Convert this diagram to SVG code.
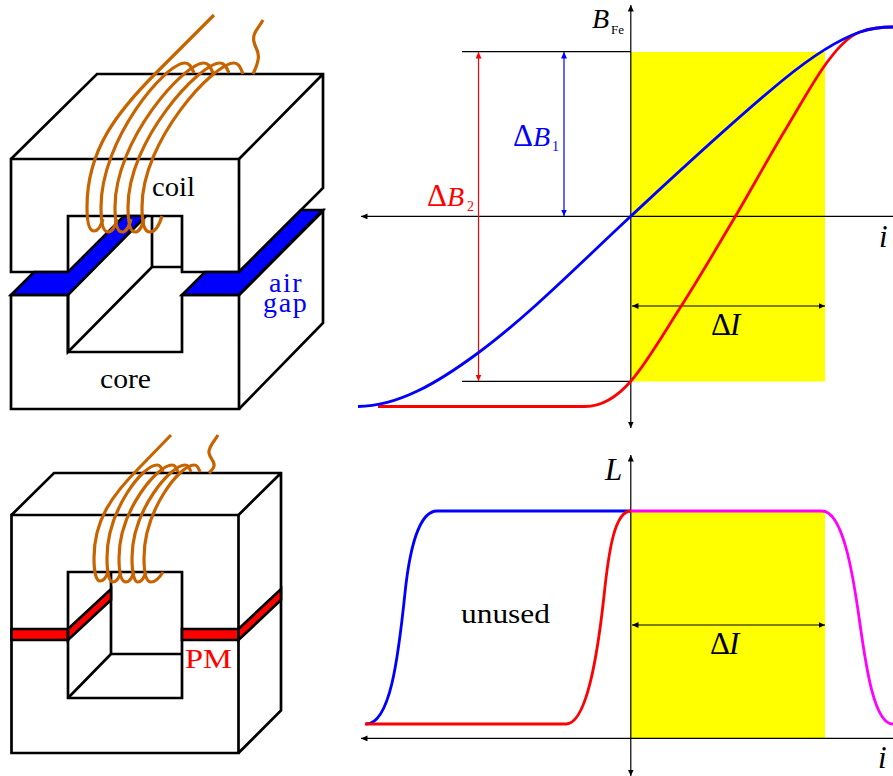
<svg xmlns="http://www.w3.org/2000/svg" width="893" height="776" viewBox="0 0 893 776">
<style>
.k{fill:none;stroke:#000;stroke-width:2.7;stroke-linejoin:miter}
.w{fill:none;stroke:#c86400;stroke-width:3.2;stroke-linecap:butt;stroke-linejoin:round}
.a{fill:none;stroke:#000;stroke-width:1.2}
.c{fill:none;stroke-width:2.8}
text{font-family:"Liberation Serif","Times New Roman",serif;font-size:28px;fill:#000}
.m{font-style:italic}
.d{font-size:31px}
.s{font-size:13px}
.n{font-size:14px}
</style>
<defs>
<marker id="ak" markerWidth="8" markerHeight="8" refX="6.5" refY="3" orient="auto-start-reverse" markerUnits="userSpaceOnUse"><path d="M0,0L6.5,3L0,6z" fill="#000"/></marker>
<marker id="ab" markerWidth="8" markerHeight="8" refX="6.5" refY="3" orient="auto-start-reverse" markerUnits="userSpaceOnUse"><path d="M0,0L6.5,3L0,6z" fill="#00f"/></marker>
<marker id="ar" markerWidth="8" markerHeight="8" refX="6.5" refY="3" orient="auto-start-reverse" markerUnits="userSpaceOnUse"><path d="M0,0L6.5,3L0,6z" fill="#f00"/></marker>
</defs>
<rect width="893" height="776" fill="#fff"/>

<g id="gap-core">
<path class="k" d="M11,159H239V272H182V216H68V272H11Z"/>
<path class="k" d="M11,159L97,74H323V188L239,272M239,159L323,74"/>
<path class="k" d="M152,216V267H182"/>
<path class="k" d="M11,295L34,272H68L124,216H146L68,295Z" style="fill:#00f"/>
<path class="k" d="M182,295L205,272H239L301,210H323L239,295Z" style="fill:#00f"/>
<path class="k" d="M11,295H68V352H182V295H239V409H11Z"/>
<path class="k" d="M68,295V352L152,267M239,295L323,211V323L239,409"/>
<text x="152" y="196" textLength="43" lengthAdjust="spacingAndGlyphs">coil</text>
<text x="100" y="388" textLength="51" lengthAdjust="spacingAndGlyphs">core</text>
<text style="fill:#00f"><tspan x="269" y="292" letter-spacing="1.5">air</tspan><tspan x="263" y="312" letter-spacing="1.7">gap</tspan></text>
</g>
<g id="gap-coil">
<path class="w" d="M214,15L157,72C117,112 87,150 87,207C87,223 89,231 94,231C98,231 101,226 103,219"/>
<path class="w" d="M194,73C191,66 189,63 185,63C165,63 101,140 101,207C101,223 103,232 108,232C112,232 115,227 117,219"/>
<path class="w" d="M213,73C210,66 208,63 204,63C184,63 115,140 115,207C115,223 117,232 122,232C126,232 129,227 131,219"/>
<path class="w" d="M229,73C226,66 224,63 220,63C200,63 128,140 128,207C128,223 130,232 135,232C139,232 142,227 144,219"/>
<path class="w" d="M243,74C240,66 238,63 234,63C214,63 142,140 142,207C142,223 144,232 150,232C155,232 159,226 162,216"/>
<path class="w" d="M263,20C258,29 252,33 254,42C256,50 260,52 258,60C257,66 255,70 253,74"/>
</g>

<g id="pm-core">
<path class="k" d="M11.5,515H238.5V753H11.5Z"/>
<path class="k" d="M11.5,515L54,473H281V710.5L238.500,753M238.500,515L281,473"/>
<path class="k" d="M68,572H182V698H68Z"/>
<path class="k" d="M111,572V654H182M68,698L111,654"/>
<path class="k" d="M11.5,629H68V640H11.5Z" style="fill:#f00"/>
<path class="k" d="M68,629L111,589V600L68,640Z" style="fill:#f00"/>
<path class="k" d="M182,629H238.5V640H182Z" style="fill:#f00"/>
<path class="k" d="M238.5,629L281,589V600L238.500,640Z" style="fill:#f00"/>
<text x="185" y="668" textLength="47" lengthAdjust="spacingAndGlyphs" style="fill:#f00">PM</text>
</g>
<g id="pm-coil">
<path class="w" d="M171,435L140,467C112,495 94,520 94,558C94,572 96,581 100,581C104,581 106,578 108,572"/>
<path class="w" d="M163,472C161,467 160,465 157,465C143,465 107,510 107,558C107,572 109,582 113,582C117,582 119,578 121,572"/>
<path class="w" d="M178,472C176,467 175,465 172,465C158,465 119,510 119,558C119,572 121,582 126,582C130,582 132,578 134,572"/>
<path class="w" d="M191,472C189,467 188,465 185,465C171,465 132,510 132,558C132,572 134,582 138,582C142,582 144,578 146,572"/>
<path class="w" d="M200,472C198,467 197,465 194,465C180,465 144,510 144,558C144,572 146,582 151,582C156,582 160,577 163,572"/>
<path class="w" d="M218,435C214,442 208,447 209,453C210,459 215,461 214,466C214,468 211,471 209,473"/>
</g>

<g id="plot-bh">
<rect x="631" y="52" width="194" height="329.500" fill="#ff0"/>
<path class="a" d="M462,51.600H631M462,381.400H631"/>
<path class="a" style="marker-start:url(#ak);marker-end:url(#ak)" d="M630.800,5V428"/>
<path class="a" style="marker-start:url(#ak);marker-end:url(#ak)" d="M361,216.400H899"/>
<path class="a" style="marker-start:url(#ak);marker-end:url(#ak)" d="M632,306H825"/>
<path class="a" style="stroke:#00f;marker-start:url(#ab);marker-end:url(#ab)" d="M564,52V216"/>
<path class="a" style="stroke:#f00;marker-start:url(#ar);marker-end:url(#ar)" d="M478.500,52V381"/>
<path class="c" stroke="#f00" d="M378,406.500H585C600,406.500 615.700,398.600 631,381C647.300,362.200 663.700,333.300 680,308C698.300,279.600 716.700,248 735,217C752.300,187.600 769.700,155.600 787,127C799,107.200 811,85.400 823,68C835.300,50.200 847.700,36.300 860,32C871,28.150 882,27 893,27"/>
<path class="c" stroke="#00f" d="M358,406.500C398,406.500 438,382.600 478,353C529,315.300 580,263.400 631,216C681.700,169 732.300,121.600 783,80C808.700,59 834.300,41 860,32C871,28.150 882,27 893,27"/>
<text x="592" y="28" class="m">B</text><text x="611" y="34" class="s">Fe</text>
<text x="513" y="146" style="fill:#00f"><tspan class="d">Δ</tspan><tspan x="533" class="m">B</tspan></text><text x="552" y="151" class="n" style="fill:#00f">1</text>
<text x="427" y="206" style="fill:#f00"><tspan class="d">Δ</tspan><tspan x="447" class="m">B</tspan></text><text x="467" y="211" class="n" style="fill:#f00">2</text>
<text x="711" y="335"><tspan class="d">Δ</tspan><tspan x="730" class="m d">I</tspan></text>
<text x="879" y="247" class="m d">i</text>
</g>

<g id="plot-lh">
<rect x="631" y="511" width="194" height="227" fill="#ff0"/>
<path class="a" style="marker-start:url(#ak);marker-end:url(#ak)" d="M630.800,455V776"/>
<path class="a" style="marker-start:url(#ak);marker-end:url(#ak)" d="M361,738.400H899"/>
<path class="a" style="marker-start:url(#ak);marker-end:url(#ak)" d="M632,625H825"/>
<path class="c" stroke="#00f" d="M366,724C390,724 398,660 405,593C410,545 420,511 437,511H631"/>
<path class="c" stroke="#f0f" d="M631,511H822C843,511 853,575 859,617C865,659 873,724 893,724"/>
<path class="c" stroke="#f00" d="M365,724H566C586,724 597,660 604,596C609,548 615,511 631,511"/>
<text x="605" y="480" class="m d">L</text>
<text x="461" y="623" textLength="89" lengthAdjust="spacingAndGlyphs">unused</text>
<text x="710" y="654"><tspan class="d">Δ</tspan><tspan x="729" class="m d">I</tspan></text>
<text x="878" y="768" class="m d">i</text>
</g>
</svg>
